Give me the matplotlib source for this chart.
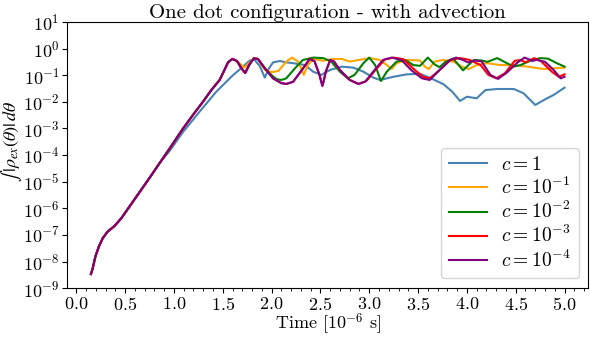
import numpy as np
import matplotlib
matplotlib.use('Agg')
import matplotlib.pyplot as plt
from matplotlib.ticker import MultipleLocator, NullLocator, LogLocator

plt.rcParams['font.family'] = 'serif'
plt.rcParams['font.serif'] = ['cmr10']
plt.rcParams['mathtext.fontset'] = 'cm'
plt.rcParams['axes.formatter.use_mathtext'] = True

# common growth phase (time in 1e-6 s, log10 of the integral)
t_rise = [0.15, 0.168, 0.195, 0.23, 0.27, 0.32, 0.39, 0.46, 0.544, 0.647, 0.75, 0.852]
lg_rise = [-8.47, -8.26, -7.82, -7.45, -7.13, -6.88, -6.67, -6.38, -5.94, -5.40, -4.86, -4.31]

# c = 1e-4 after the common part
t_c4 = [0.955, 1.09, 1.194, 1.297, 1.383, 1.468, 1.509, 1.554, 1.598, 1.646, 1.69, 1.73, 1.77,
        1.817, 1.86, 1.93, 2.015, 2.10, 2.15, 2.22, 2.31, 2.39, 2.44, 2.49, 2.505, 2.52, 2.535,
        2.555, 2.60, 2.64, 2.70, 2.80, 2.89, 2.96, 3.04, 3.14, 3.23, 3.33, 3.43, 3.54, 3.62,
        3.72, 3.83, 3.89, 3.96, 4.01, 4.08, 4.15, 4.24, 4.32, 4.41, 4.51, 4.59, 4.67, 4.72,
        4.80, 4.89, 4.96, 5.0]
lg_c4 = [-3.76, -3.02, -2.50, -2.0, -1.56, -1.18, -0.87, -0.52, -0.39, -0.47, -0.74, -0.92, -0.62,
         -0.37, -0.39, -0.74, -1.12, -1.30, -1.33, -1.25, -0.81, -0.39, -0.48, -0.99, -1.20, -1.40, -1.20,
         -0.87, -0.43, -0.49, -0.81, -1.18, -1.33, -1.24, -0.87, -0.43, -0.34, -0.43, -0.81, -1.12, -1.18,
         -0.81, -0.43, -0.34, -0.43, -0.52, -0.45, -0.48, -0.99, -1.14, -0.90, -0.55, -0.34, -0.46, -0.43,
         -0.50, -0.81, -1.12, -1.06]

# c = 1e-3, follows c = 1e-4 until ~2.9
t_c3 = [2.98, 3.06, 3.16, 3.25, 3.35, 3.45, 3.55, 3.62, 3.72, 3.83, 3.93, 4.03, 4.14, 4.22, 4.30,
        4.39, 4.49, 4.55, 4.60, 4.69, 4.76, 4.87, 4.94, 5.0]
lg_c3 = [-1.18, -0.82, -0.41, -0.34, -0.40, -0.75, -1.06, -1.12, -0.81, -0.43, -0.36, -0.43, -0.62, -0.99, -1.12,
         -0.93, -0.46, -0.43, -0.52, -0.36, -0.48, -0.87, -1.06, -0.97]

# c = 1e-2, follows c = 1e-4 until ~1.93
t_c2 = [2.0, 2.05, 2.10, 2.15, 2.24, 2.32, 2.43, 2.53, 2.61, 2.70, 2.78, 2.85, 2.94, 3.0, 3.06, 3.12,
        3.18, 3.28, 3.37, 3.45, 3.52, 3.60, 3.67, 3.72, 3.78, 3.86, 3.96, 4.07, 4.15, 4.21, 4.31,
        4.41, 4.48, 4.55, 4.65, 4.75, 4.83, 4.92, 5.0]
lg_c2 = [-1.0, -1.15, -1.18, -1.12, -0.74, -0.43, -0.34, -0.36, -0.49, -0.87, -1.12, -0.99, -0.55, -0.34, -0.62, -1.22,
         -0.87, -0.49, -0.43, -0.62, -0.65, -0.34, -0.60, -0.70, -0.50, -0.38, -0.82, -0.43, -0.45, -0.50, -0.36,
         -0.55, -0.68, -0.62, -0.46, -0.36, -0.38, -0.55, -0.68]

# c = 1e-1, follows c = 1e-4 until ~1.65
t_c1 = [1.69, 1.72, 1.76, 1.817, 1.86, 1.93, 2.0, 2.07, 2.12, 2.15, 2.21, 2.27, 2.33, 2.37, 2.43,
        2.53, 2.63, 2.72, 2.80, 2.89, 3.01, 3.11, 3.18, 3.23, 3.28, 3.38, 3.52, 3.57, 3.61, 3.67,
        3.76, 3.86, 3.95, 4.02, 4.10, 4.21, 4.34, 4.48, 4.62, 4.79, 4.89, 5.0]
lg_c1 = [-0.62, -0.72, -0.58, -0.38, -0.40, -0.80, -0.89, -0.84, -0.62, -0.49, -0.34, -0.49, -0.99, -0.62, -0.39,
         -0.46, -0.39, -0.39, -0.49, -0.43, -0.36, -0.43, -0.62, -0.77, -0.55, -0.43, -0.45, -0.68, -0.77, -0.49,
         -0.43, -0.49, -0.68, -0.77, -0.62, -0.55, -0.62, -0.62, -0.68, -0.77, -0.74, -0.72]

# c = 1
t_c0 = [0.955, 1.09, 1.263, 1.434, 1.605, 1.707, 1.776, 1.827, 1.879, 1.93, 1.974, 2.015, 2.084,
        2.153, 2.22, 2.34, 2.426, 2.51, 2.60, 2.72, 2.84, 2.94, 3.04, 3.11, 3.25, 3.385, 3.52,
        3.62, 3.76, 3.85, 3.93, 4.0, 4.10, 4.19, 4.31, 4.48, 4.58, 4.70, 4.79, 4.89, 5.0]
lg_c0 = [-3.85, -3.15, -2.37, -1.62, -1.0, -0.68, -0.45, -0.43, -0.66, -1.09, -0.74, -0.52, -0.47,
         -0.52, -0.55, -0.62, -0.87, -0.99, -0.80, -0.68, -0.72, -0.87, -1.09, -1.18, -1.06, -0.97, -0.95,
         -1.10, -1.34, -1.62, -1.97, -1.81, -1.87, -1.56, -1.52, -1.52, -1.68, -2.12, -1.93, -1.74, -1.47]

labels = [r'$c=1$', r'$c=10^{-1}$', r'$c=10^{-2}$', r'$c=10^{-3}$', r'$c=10^{-4}$']
colors = ['steelblue', 'orange', 'green', 'red', 'purple']


def build(t_tail, lg_tail, base_t, base_lg):
    # prefix the shared part of the base curve before the tail starts
    t0 = t_tail[0]
    bt = [t for t in base_t if t < t0]
    bl = [v for t, v in zip(base_t, base_lg) if t < t0]
    t = np.array(bt + list(t_tail))
    return t, 10.0 ** np.array(bl + list(lg_tail))


def main():
    t4_all = t_rise + t_c4
    l4_all = lg_rise + lg_c4
    curves = [
        build(t_c0, lg_c0, t_rise, lg_rise),
        build(t_c1, lg_c1, t4_all, l4_all),
        build(t_c2, lg_c2, t4_all, l4_all),
        build(t_c3, lg_c3, t4_all, l4_all),
        build(t_c4, lg_c4, t_rise, lg_rise),
    ]

    fig = plt.figure(figsize=(5.9, 3.37), dpi=100)
    ax = fig.add_subplot(111)
    fig.subplots_adjust(left=0.114, right=0.997, bottom=0.145, top=0.935)

    for (t, y), lab, col in zip(curves, labels, colors):
        ax.plot(t, y, color=col, lw=1.5, label=lab)

    ax.set_yscale('log')
    ax.set_ylim(1e-9, 1e1)
    ax.set_xlim(-0.0925, 5.2425)
    ax.xaxis.set_major_locator(MultipleLocator(0.5))
    ax.xaxis.set_minor_locator(MultipleLocator(0.1))
    ax.yaxis.set_major_locator(LogLocator(base=10, numticks=15))
    ax.yaxis.set_minor_locator(NullLocator())
    ax.tick_params(labelsize=13, pad=2)

    ax.set_title('One dot configuration - with advection', fontsize=15, pad=3)
    ax.set_xlabel(r'Time [$10^{-6}$ s]', fontsize=13)
    ax.xaxis.set_label_coords(0.5, -0.088)
    # stix math font: the cm \int glyph is far too tall here
    ax.set_ylabel(r'$\int\,|\rho_{ex}(\theta)|\,d\theta$', fontsize=13,
                  math_fontfamily='stix')
    ax.yaxis.set_label_coords(-0.083, 0.55)
    ax.legend(loc='lower right', fontsize=14, handlelength=2.0, handletextpad=0.7,
              labelspacing=0.15, borderaxespad=0.5)

    fig.savefig('out.png', dpi=100)


if __name__ == '__main__':
    main()
